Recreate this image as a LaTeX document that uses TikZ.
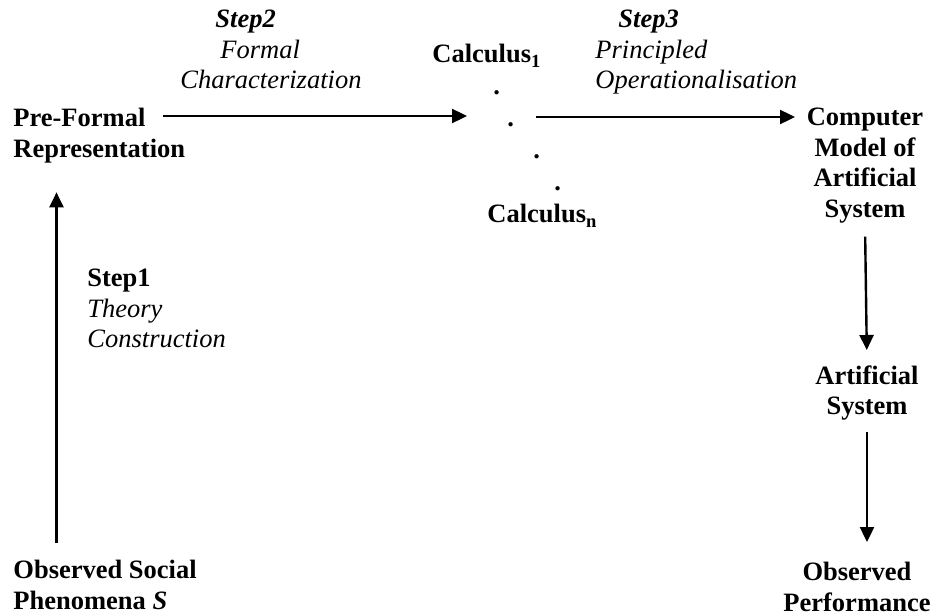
\documentclass[tikz,border=0pt]{standalone}
\usepackage{fontspec}
\setmainfont{Liberation Serif}
\usetikzlibrary{arrows.meta}

\begin{document}
\begin{tikzpicture}[x=0.5pt, y=-0.5pt,
      every node/.style={font=\fontsize{13.25}{15.25}\selectfont\bfseries, inner sep=0pt},
      leftbox/.style={anchor=north west, align=left},
      midbox/.style={anchor=north, align=center},
      steptxt/.style={leftbox, font=\fontsize{13.25}{15.25}\selectfont\itshape},
      flow/.style={->, line width=1.2pt, >={Triangle[length=7.5pt, width=7pt]}}]
    \useasboundingbox (0,0) rectangle (933,616);
    % the chain of representations
    \node[leftbox] (pre) at (13,108) {Pre-Formal\\Representation};
    \node[leftbox, font=\fontsize{13.25}{16}\selectfont\bfseries] (calc) at (432,44)
         {Calculus\textsubscript{1}\\ \hspace*{30.5pt}.\\ \hspace*{37.5pt}.\\
          \hspace*{50.5pt}.\\ \hspace*{61pt}.\\ \hspace*{27.5pt}Calculus\textsubscript{n}};
    \node[midbox] (model) at (865,108) {Computer\\Model of\\Artificial\\System};
    \node[midbox] (artsys) at (867,365) {Artificial\\System};
    \node[midbox] (perf) at (857,562) {Observed\\Performance};
    \node[leftbox] (social) at (13,560) {Observed Social\\Phenomena \textit{S}};
    % step labels
    \node[steptxt] (stepone) at (87,269) {\textbf{\upshape Step1}\\Theory\\Construction};
    \node[steptxt] (steptwo) at (180,10)
         {\hspace*{17.5pt}\textbf{Step2}\\ \hspace*{20pt}Formal\\Characterization};
    \node[steptxt] (stepthree) at (595,10)
         {\hspace*{11.5pt}\textbf{Step3}\\Principled\\Operationalisation};
    % arrows
    \draw[flow, shorten <=8.5pt, shorten >=14.5pt] ([shift={(43.5,0)}]social.north west)
         -- ([shift={(43.5,0)}]social.north west |- pre.south);
    \draw[flow] ([shift={(150,8)}]pre.north west) -- ([shift={(35,72)}]calc.north west);
    \draw[flow] ([shift={(104,73)}]calc.north west) -- ([shift={(-70,9)}]model.north);
    \draw[flow, shorten <=6.5pt, shorten >=7.5pt] (model.south) -- (artsys.north);
    \draw[flow, shorten <=5.5pt, shorten >=10pt] (artsys.south) -- (artsys.south |- perf.north);
  \end{tikzpicture}
\end{document}
